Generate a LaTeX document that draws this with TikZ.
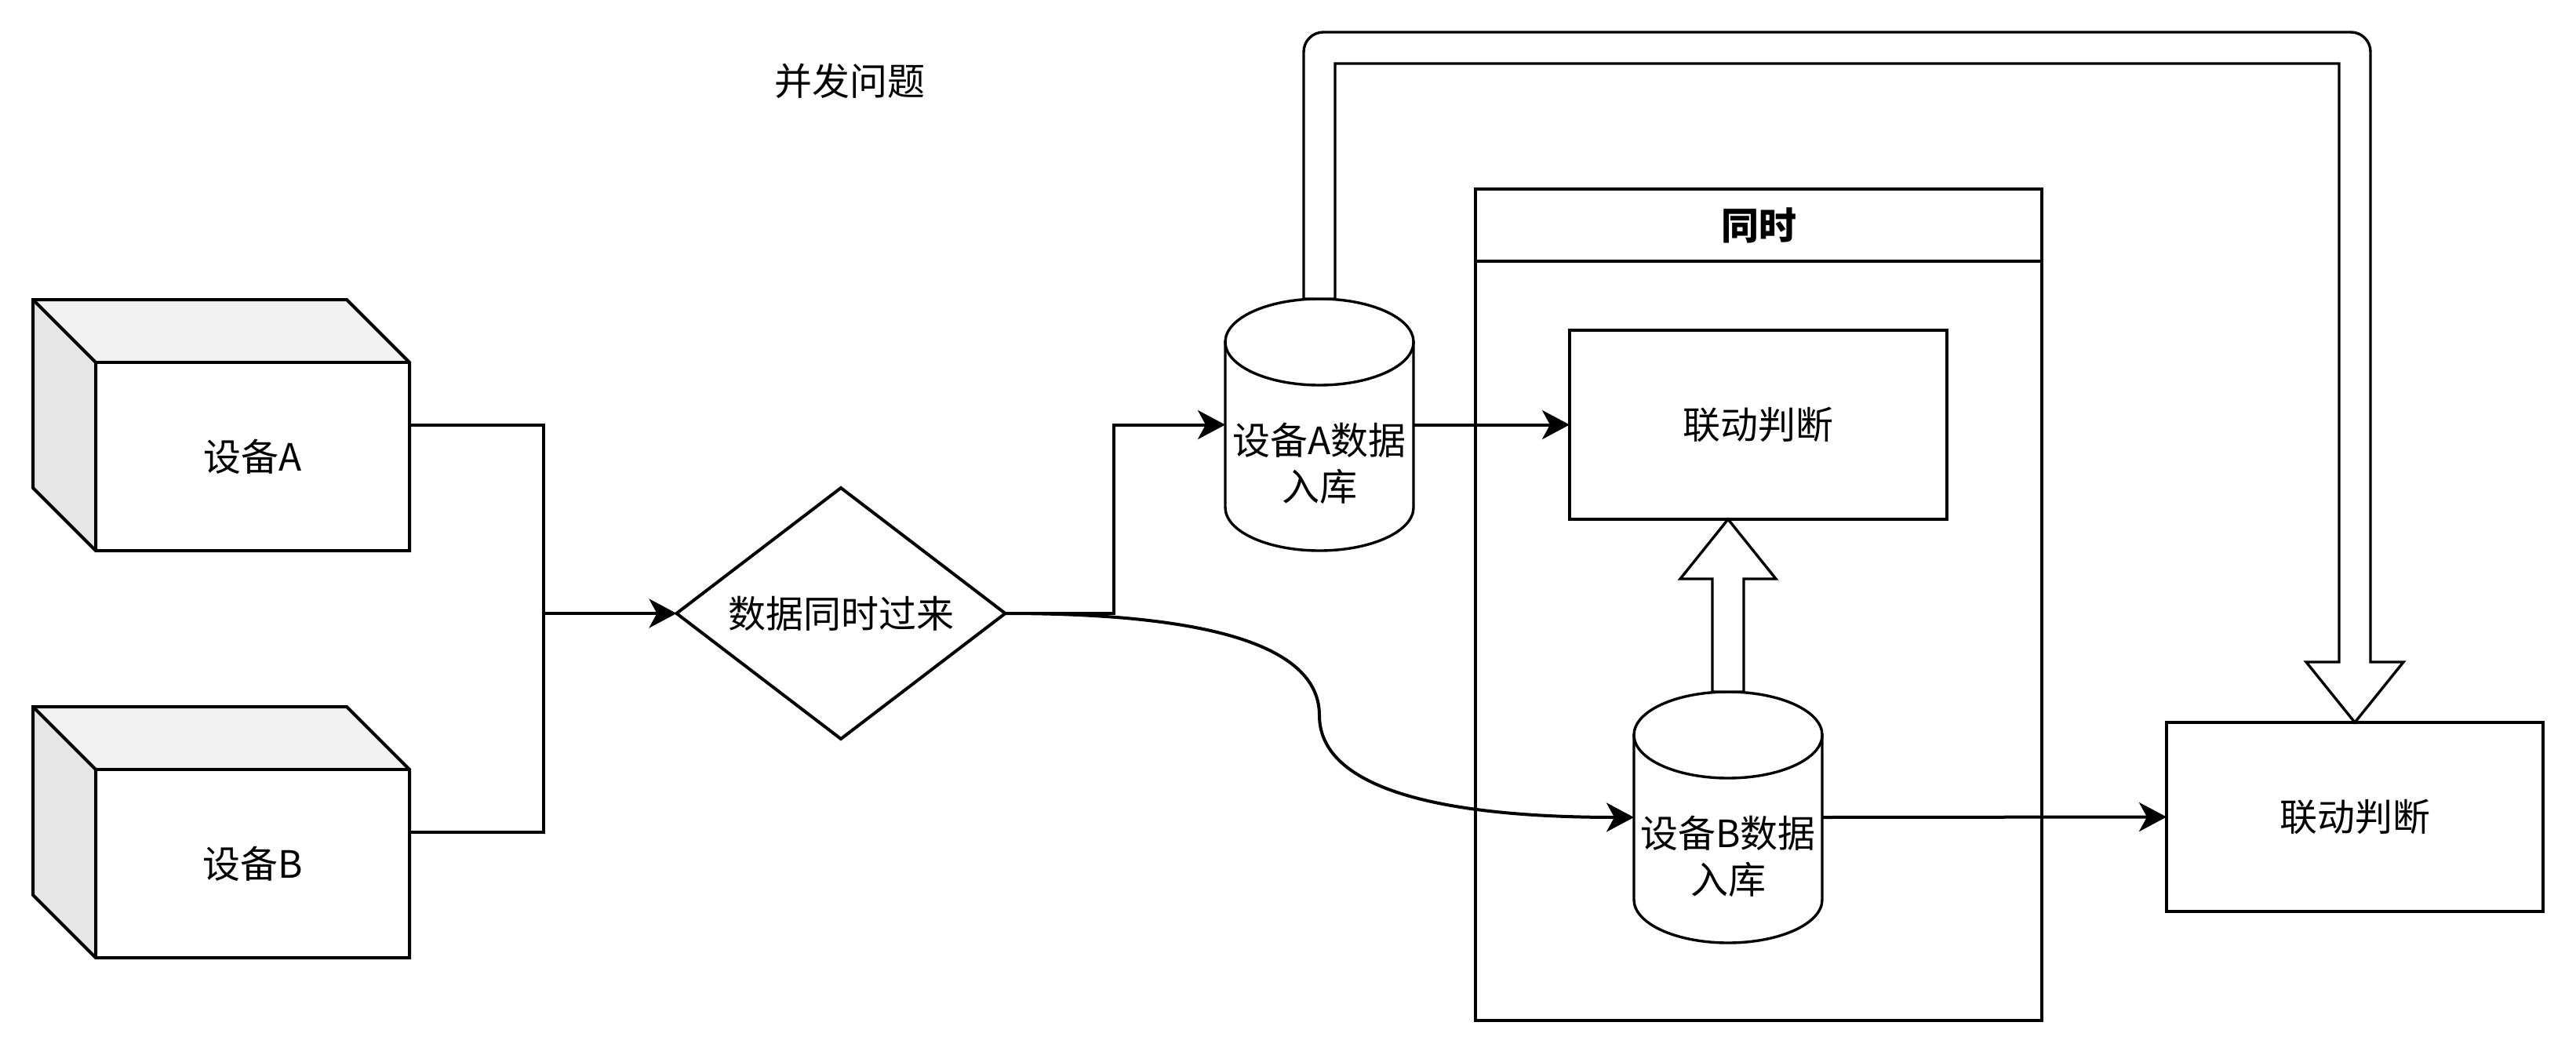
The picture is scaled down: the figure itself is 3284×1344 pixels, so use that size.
\documentclass[tikz,border=0pt]{standalone}
\usepackage{fontspec}
\setmainfont{Noto Sans CJK SC}
\usetikzlibrary{calc,arrows.meta}
\definecolor{topface}{HTML}{F2F2F2}
\definecolor{sideface}{HTML}{E6E6E6}
\tikzset{
 ln/.style={line width=4pt, line join=miter},
 conn/.style={ln, -{Stealth[length=35pt,width=37pt,inset=10pt]}},
 box/.style={draw, ln, rectangle, inner sep=0pt, outer sep=0pt, fill=white},
 ghost/.style={rectangle, inner sep=0pt, outer sep=0pt},
 lbl/.style={font=\fontsize{48}{59}\selectfont, align=center, inner sep=0pt},
 cylline/.style={line width=3.4pt, fill=white},
 fat/.style={line width=3.4pt, fill=white, line join=miter},
}
\newcommand\drawcyl[1]{%
 \draw[cylline] ($(#1.north west)+(0,55)$) -- ($(#1.south west)+(0,-55)$)
   .. controls ($(#1.south west)+(0,-24.6)$) and ($(#1.south)+(-66.3,0)$) .. (#1.south)
   .. controls ($(#1.south)+(66.3,0)$) and ($(#1.south east)+(0,-24.6)$) .. ($(#1.south east)+(0,-55)$)
   -- ($(#1.north east)+(0,55)$) -- cycle;
 \draw[cylline] ($(#1.north)+(0,55)$) ellipse[x radius=120pt, y radius=55pt];
}
\newcommand\drawcube[1]{%
 \fill[topface] (#1.north west) -- ($(#1.north east)+(-80,0)$) -- ($(#1.north east)+(0,80)$) -- ($(#1.north west)+(80,80)$) -- cycle;
 \fill[sideface] (#1.north west) -- ($(#1.north west)+(80,80)$) -- ($(#1.south west)+(80,0)$) -- ($(#1.south west)+(0,-80)$) -- cycle;
 \draw[ln] (#1.north west) -- ($(#1.north east)+(-80,0)$) -- ($(#1.north east)+(0,80)$) -- (#1.south east) -- ($(#1.south west)+(80,0)$) -- ($(#1.south west)+(0,-80)$) -- cycle;
 \draw[ln] (#1.north west) -- ($(#1.north west)+(80,80)$) -- ($(#1.south west)+(80,0)$);
 \draw[ln] ($(#1.north west)+(80,80)$) -- ($(#1.north east)+(0,80)$);
}
\begin{document}
\begin{tikzpicture}[x=1pt,y=-1pt]
\useasboundingbox (0,0) rectangle (3284,1344);

% title
\node[lbl] (title) at (1083,103) {并发问题};

% devices
\node[ghost, minimum width=480pt, minimum height=320pt] (devA) at (282,542) {};
\node[ghost, minimum width=480pt, minimum height=320pt] (devB) at (282,1061) {};
\drawcube{devA}
\drawcube{devB}
\node[lbl] (devAt) at ($(devA.center)+(40,40)$) {设备A};
\node[lbl] (devBt) at ($(devB.center)+(40,40)$) {设备B};

% diamond
\node[ghost, minimum width=419pt, minimum height=320pt] (dia) at (1072,782) {};
\draw[ln] (dia.north) -- (dia.east) -- (dia.south) -- (dia.west) -- cycle;
\node[lbl] (diat) at (dia.center) {数据同时过来};

% container
\node[box, minimum width=722pt, minimum height=1060pt] (cont) at (2242,771) {};
\draw[ln] ($(cont.north west)+(0,92)$) -- ($(cont.north east)+(0,92)$);
\node[lbl, font=\fontsize{48}{59}\selectfont\bfseries] (conth) at ($(cont.north)+(0,46)$) {同时};

% boxes
\node[box, minimum width=481pt, minimum height=241pt] (box1) at (2241.5,541.5) {};
\node[lbl] (box1t) at (box1.center) {联动判断};
\node[box, minimum width=480pt, minimum height=241pt] (box2) at (3002,1041.5) {};
\node[lbl] (box2t) at (box2.center) {联动判断};

% cylinders
\node[ghost, minimum width=240pt, minimum height=321pt] (cylA) at (1682,541.5) {};
\node[ghost, minimum width=240pt, minimum height=320pt] (cylB) at (2203,1042) {};
\drawcyl{cylA}
\drawcyl{cylB}
\node[lbl] (cylAt) at ($(cylA.center)+(0,49)$) {设备A数据\\入库};
\node[lbl] (cylBt) at ($(cylB.center)+(0,50)$) {设备B数据\\入库};

% connectors: devices -> diamond
\coordinate (j) at (693,782);
\draw[ln] (devA.east) -| (j);
\draw[ln] (devB.east) -| (j);
\draw[conn] (j) -- (dia.west);

% diamond -> cylA
\draw[conn] (dia.east) -- ($(dia.east)+(138,0)$) |- (cylA.west);

% diamond -> cylB (curved)
\coordinate (k1) at (cylA.center |- dia.east);
\coordinate (k2) at (cylA.center |- cylB.west);
\coordinate (km) at ($(k1)!0.5!(k2)$);
\draw[conn] (dia.east) .. controls ($(dia.east)!2/3!(k1)$) and ($(km)!2/3!(k1)$) .. (km)
  .. controls ($(km)!2/3!(k2)$) and ($(cylB.west)!2/3!(k2)$) .. (cylB.west);

% cylA -> box1, cylB -> box2
\draw[conn] (cylA.east) -- (box1.west);
\draw[conn] (cylB.east) -- (box2.west);

% hollow arrow cylB -> box1
\coordinate (b) at (cylB.north);
\coordinate (t) at (cylB.north |- box1.south);
\draw[fat] ($(b)+(-20,0)$) -- ($(t)+(-20,76)$) -- ($(t)+(-61,76)$) -- (t) -- ($(t)+(61,76)$) -- ($(t)+(20,76)$) -- ($(b)+(20,0)$) -- cycle;

% big hollow arrow cylA -> box2
\coordinate (s) at (cylA.north);
\coordinate (e) at (box2.north);
\coordinate (route) at (0,61);
\coordinate (sT) at (s |- route);
\coordinate (eT) at (e |- route);
\draw[fat] ($(s)+(-20,0)$) -- ($(sT)+(-20,5)$)
  .. controls ($(sT)+(-20,-8.8)$) and ($(sT)+(-8.8,-20)$) .. ($(sT)+(5,-20)$)
  -- ($(eT)+(-5,-20)$)
  .. controls ($(eT)+(8.8,-20)$) and ($(eT)+(20,-8.8)$) .. ($(eT)+(20,5)$)
  -- ($(e)+(20,-77)$) -- ($(e)+(62,-77)$) -- (e) -- ($(e)+(-62,-77)$) -- ($(e)+(-20,-77)$)
  -- ($(eT)+(-20,20)$) -- ($(sT)+(20,20)$) -- ($(s)+(20,0)$) -- cycle;
\end{tikzpicture}
\end{document}
